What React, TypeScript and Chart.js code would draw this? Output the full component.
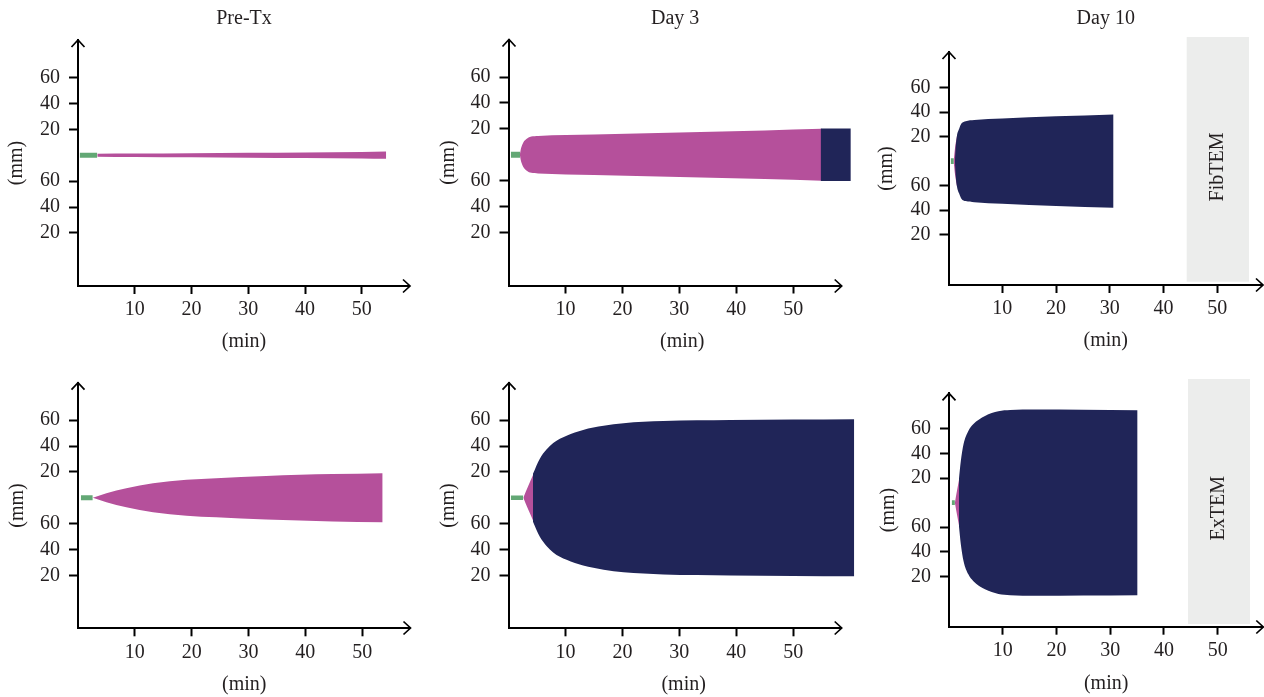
import React, { useEffect, useRef } from 'react';
import { Chart, registerables } from 'chart.js';

Chart.register(...registerables);

// ---------- tick labels / text ----------
const xTickValues = [10, 20, 30, 40, 50];
const yTickValues = [-60, -40, -20, 20, 40, 60];
const yTickLabels = ['20', '40', '60', '20', '40', '60'];
const columnTitles = ['Pre-Tx', 'Day 3', 'Day 10'];
const rowLabels = ['FibTEM', 'ExTEM'];
const xAxisTitle = '(min)';
const yAxisTitle = '(mm)';

// ---------- Pre-Tx FibTEM ----------
const preFibCtTime = [0.3, 3.4];
const preFibCtAmp = [2.0, 2.0];
const preFibCftTime = [3.4, 10, 20, 30, 40, 50, 54.3];
const preFibCftAmp = [1.2, 1.4, 1.6, 1.9, 2.2, 2.5, 2.8];

// ---------- Day 3 FibTEM ----------
const d3FibCtTime = [0.4, 2.05];
const d3FibCtAmp = [2.3, 2.3];
const d3FibCftTime = [2.0, 2.15, 2.3, 2.6, 3.2, 4.0, 5.2, 15, 30, 45, 55];
const d3FibCftAmp = [0, 4, 6.4, 9.5, 12.3, 14.0, 14.5, 15.6, 17.2, 18.8, 20];
const d3FibMcfTime = [54.8, 60.1];
const d3FibMcfAmp = [20.2, 20.2];

// ---------- Day 10 FibTEM ----------
const d10FibCtTime = [0.4, 1.0];
const d10FibCtAmp = [2.3, 2.3];
const d10FibCftTime = [0.95, 1.25, 1.6];
const d10FibCftAmp = [0, 12, 21];
const d10FibMcfTime = [1.2, 1.3, 1.55, 2.0, 2.4, 3.2, 4.8, 10, 20, 30.7];
const d10FibMcfAmp = [0, 9, 20, 26.6, 30.6, 32.6, 33.6, 34.8, 36.6, 38.1];

// ---------- Pre-Tx ExTEM ----------
const preExCtTime = [0.5, 2.6];
const preExCtAmp = [2.0, 2.0];
const preExCftTime = [2.6, 5, 8.5, 13.2, 19.1, 24.3, 33.1, 39, 44.8, 53.6];
const preExCftAmp = [0, 3.5, 7.3, 11.2, 13.9, 15.1, 16.9, 17.7, 18.3, 19];

// ---------- Day 3 ExTEM ----------
const d3ExCtTime = [0.4, 2.6];
const d3ExCtAmp = [1.8, 1.8];
const d3ExCftTime = [2.6, 3.5, 4.4];
const d3ExCftAmp = [0, 9.5, 18.5];
const d3ExMcfTime = [4.3, 5.5, 7.85, 10.2, 13.1, 16.7, 20.2, 27.2, 39, 50, 60.7];
const d3ExMcfAmp = [18.5, 30.2, 42.3, 48, 52.5, 55.7, 57.7, 59.3, 60.1, 60.5, 60.8];

// ---------- Day 10 ExTEM ----------
const d10ExCtTime = [0.5, 1.1];
const d10ExCtAmp = [2.0, 2.0];
const d10ExCftTime = [1.1, 1.5, 1.9];
const d10ExCftAmp = [0, 10, 19.5];
const d10ExMcfTime = [1.85, 2.2, 2.7, 3.6, 4.5, 6.7, 9.2, 11.4, 16, 25, 35.1];
const d10ExMcfAmp = [19, 33.9, 47.5, 58.4, 63.8, 70.6, 74.4, 75.4, 75.8, 75.6, 75.3];

// ---------- styles ----------
const ctColor = '#63a875';
const cftColor = '#b5509b';
const mcfColor = '#202558';
const textColor = '#231f20';
const fontFamily = '"Liberation Serif", "Times New Roman", serif';
const fontSize = 20;
const Y_MIN = -101;
const Y_MAX = 89;
const X_ARROW = 58.5;

type Trace = { t: number[]; a: number[] };
type PanelData = { ct: Trace; cft: Trace; mcf?: Trace };

const panelData: PanelData[] = [
  { ct: { t: preFibCtTime, a: preFibCtAmp }, cft: { t: preFibCftTime, a: preFibCftAmp } },
  { ct: { t: d3FibCtTime, a: d3FibCtAmp }, cft: { t: d3FibCftTime, a: d3FibCftAmp }, mcf: { t: d3FibMcfTime, a: d3FibMcfAmp } },
  { ct: { t: d10FibCtTime, a: d10FibCtAmp }, cft: { t: d10FibCftTime, a: d10FibCftAmp }, mcf: { t: d10FibMcfTime, a: d10FibMcfAmp } },
  { ct: { t: preExCtTime, a: preExCtAmp }, cft: { t: preExCftTime, a: preExCftAmp } },
  { ct: { t: d3ExCtTime, a: d3ExCtAmp }, cft: { t: d3ExCftTime, a: d3ExCftAmp }, mcf: { t: d3ExMcfTime, a: d3ExMcfAmp } },
  { ct: { t: d10ExCtTime, a: d10ExCtAmp }, cft: { t: d10ExCftTime, a: d10ExCftAmp }, mcf: { t: d10ExMcfTime, a: d10ExMcfAmp } },
];

// ---------- layout (page pixels) ----------
type Layout = {
  box: { x: number; y: number; w: number; h: number };
  left: number; arrowX: number; top: number; bottom: number; xMax: number;
  mmX: number; minY: number;
  title?: string; side?: string;
  sideBox?: { x: number; y: number; w: number; h: number; ty: number };
};

const layouts: Layout[] = [
  { box: { x: 0, y: 0, w: 435, h: 355 }, left: 78, arrowX: 410, top: 40, bottom: 286, xMax: 58.5, mmX: 17, minY: 342, title: columnTitles[0] },
  { box: { x: 435, y: 0, w: 435, h: 355 }, left: 508.5, arrowX: 841.7, top: 39.5, bottom: 285.5, xMax: 61, mmX: 448.3, minY: 342, title: columnTitles[1] },
  { box: { x: 870, y: 0, w: 394, h: 355 }, left: 948.5, arrowX: 1263, top: 52, bottom: 285, xMax: 58.5, mmX: 886.7, minY: 340.7, title: columnTitles[2], side: rowLabels[0], sideBox: { x: 1186.7, y: 37, w: 62.3, h: 244.7, ty: 167 } },
  { box: { x: 0, y: 355, w: 435, h: 342 }, left: 78, arrowX: 410.5, top: 382.7, bottom: 628.3, xMax: 58.5, mmX: 17.5, minY: 685 },
  { box: { x: 435, y: 355, w: 435, h: 342 }, left: 508.5, arrowX: 841.7, top: 382.7, bottom: 628.3, xMax: 61.5, mmX: 448.3, minY: 685 },
  { box: { x: 870, y: 355, w: 394, h: 342 }, left: 949, arrowX: 1263.3, top: 393.3, bottom: 626.7, xMax: 58.5, mmX: 888.3, minY: 683.3, side: rowLabels[1], sideBox: { x: 1188, y: 379, w: 62, h: 245, ty: 508.3 } },
];

function band(tr: Trace, color: string) {
  const common = {
    backgroundColor: color,
    borderColor: color,
    borderWidth: 0,
    pointRadius: 0,
    pointHoverRadius: 0,
    cubicInterpolationMode: 'monotone' as const,
    clip: false as const,
  };
  return [
    { ...common, data: tr.t.map((t, i) => ({ x: t, y: tr.a[i] })), fill: '+1' },
    { ...common, data: tr.t.map((t, i) => ({ x: t, y: -tr.a[i] })), fill: false },
  ];
}

function makeDecor(L: Layout) {
  return {
    id: 'decor',
    beforeDatasetsDraw(chart: any) {
      if (!L.sideBox) return;
      const ctx = chart.ctx;
      const b = L.sideBox;
      ctx.save();
      ctx.fillStyle = '#ecedec';
      ctx.fillRect(b.x - L.box.x, b.y - L.box.y, b.w, b.h);
      ctx.restore();
    },
    afterDraw(chart: any) {
      const ctx = chart.ctx;
      const ca = chart.chartArea;
      const tipX = chart.scales.x.getPixelForValue(X_ARROW);
      const left = Math.round(ca.left);
      const bottom = Math.round(ca.bottom);
      const top = ca.top;
      ctx.save();
      ctx.strokeStyle = '#000';
      ctx.lineWidth = 2;
      ctx.beginPath();
      ctx.moveTo(left - 1, bottom);
      ctx.lineTo(tipX, bottom);
      ctx.stroke();
      ctx.lineWidth = 1.7;
      ctx.beginPath();
      ctx.moveTo(tipX - 7, bottom - 6.5);
      ctx.lineTo(tipX, bottom);
      ctx.lineTo(tipX - 7, bottom + 6.5);
      ctx.stroke();
      ctx.beginPath();
      ctx.moveTo(left - 6.5, top + 7);
      ctx.lineTo(left, top);
      ctx.lineTo(left + 6.5, top + 7);
      ctx.stroke();
      ctx.fillStyle = textColor;
      ctx.font = `${fontSize}px ${fontFamily}`;
      if (L.title) {
        ctx.textAlign = 'center';
        ctx.textBaseline = 'alphabetic';
        ctx.fillText(L.title, (ca.left + tipX) / 2, 24);
      }
      if (L.side && L.sideBox) {
        const b = L.sideBox;
        ctx.translate(b.x + b.w / 2 - L.box.x, b.ty - L.box.y);
        ctx.rotate(-Math.PI / 2);
        ctx.textAlign = 'center';
        ctx.textBaseline = 'middle';
        ctx.fillText(L.side, 0, 0);
      }
      ctx.restore();
    },
  };
}

function Panel({ L, D }: { L: Layout; D: PanelData }) {
  const ref = useRef<HTMLCanvasElement>(null);
  useEffect(() => {
    const canvas = ref.current;
    if (!canvas) return;
    const lh = fontSize * 1.2;
    const right = L.left + (L.xMax / X_ARROW) * (L.arrowX - L.left);
    const datasets: any[] = [];
    if (D.mcf) datasets.push(...band(D.mcf, mcfColor));
    datasets.push(...band(D.cft, cftColor));
    datasets.push(...band(D.ct, ctColor));
    const font = { family: fontFamily, size: fontSize };
    const chart = new Chart(canvas, {
      type: 'line',
      data: { datasets },
      options: {
        animation: false,
        responsive: false,
        events: [],
        layout: {
          padding: {
            left: 0,
            top: L.top - L.box.y,
            right: L.box.x + L.box.w - right,
            bottom: 0,
          },
        },
        plugins: { legend: { display: false }, tooltip: { enabled: false }, title: { display: false } },
        scales: {
          x: {
            type: 'linear',
            position: 'bottom',
            min: 0,
            max: L.xMax,
            afterBuildTicks: (s: any) => { s.ticks = xTickValues.map((v) => ({ value: v })); },
            afterFit: (s: any) => { s.height = L.box.y + L.box.h - L.bottom; },
            ticks: { font, color: textColor, padding: 4, maxRotation: 0, autoSkip: false, callback: (v: any) => String(v) },
            grid: { drawOnChartArea: false, drawTicks: true, tickLength: 8, tickWidth: 2, tickColor: '#000', color: '#000' },
            border: { display: false },
            title: { display: true, text: xAxisTitle, font, color: textColor, padding: { top: 0, bottom: L.box.y + L.box.h - L.minY - lh / 2 } },
          },
          y: {
            type: 'linear',
            position: 'left',
            min: Y_MIN,
            max: Y_MAX,
            afterBuildTicks: (s: any) => { s.ticks = yTickValues.map((v) => ({ value: v })); },
            afterFit: (s: any) => { s.width = L.left - L.box.x; },
            ticks: {
              font, color: textColor, padding: 9, autoSkip: false,
              callback: (v: any) => { const i = yTickValues.indexOf(Number(v)); return i >= 0 ? yTickLabels[i] : ''; },
            },
            grid: { drawOnChartArea: false, drawTicks: true, tickLength: 9, tickWidth: 2, tickColor: '#000', color: '#000' },
            border: { display: true, color: '#000', width: 2 },
            title: { display: true, text: yAxisTitle, font, color: textColor, padding: { top: L.mmX - L.box.x - lh / 2, bottom: 0 } },
          },
        },
      } as any,
      plugins: [makeDecor(L)],
    });
    return () => chart.destroy();
  }, []);
  return (
    <div style={{ position: 'absolute', left: L.box.x, top: L.box.y, width: L.box.w, height: L.box.h }}>
      <canvas ref={ref} width={L.box.w} height={L.box.h} style={{ width: L.box.w, height: L.box.h, display: 'block' }} />
    </div>
  );
}

export default function App() {
  return (
    <div style={{ position: 'absolute', left: 0, top: 0, width: 1264, height: 697, background: '#fff' }}>
      {layouts.map((L, i) => (
        <Panel key={i} L={L} D={panelData[i]} />
      ))}
    </div>
  );
}
